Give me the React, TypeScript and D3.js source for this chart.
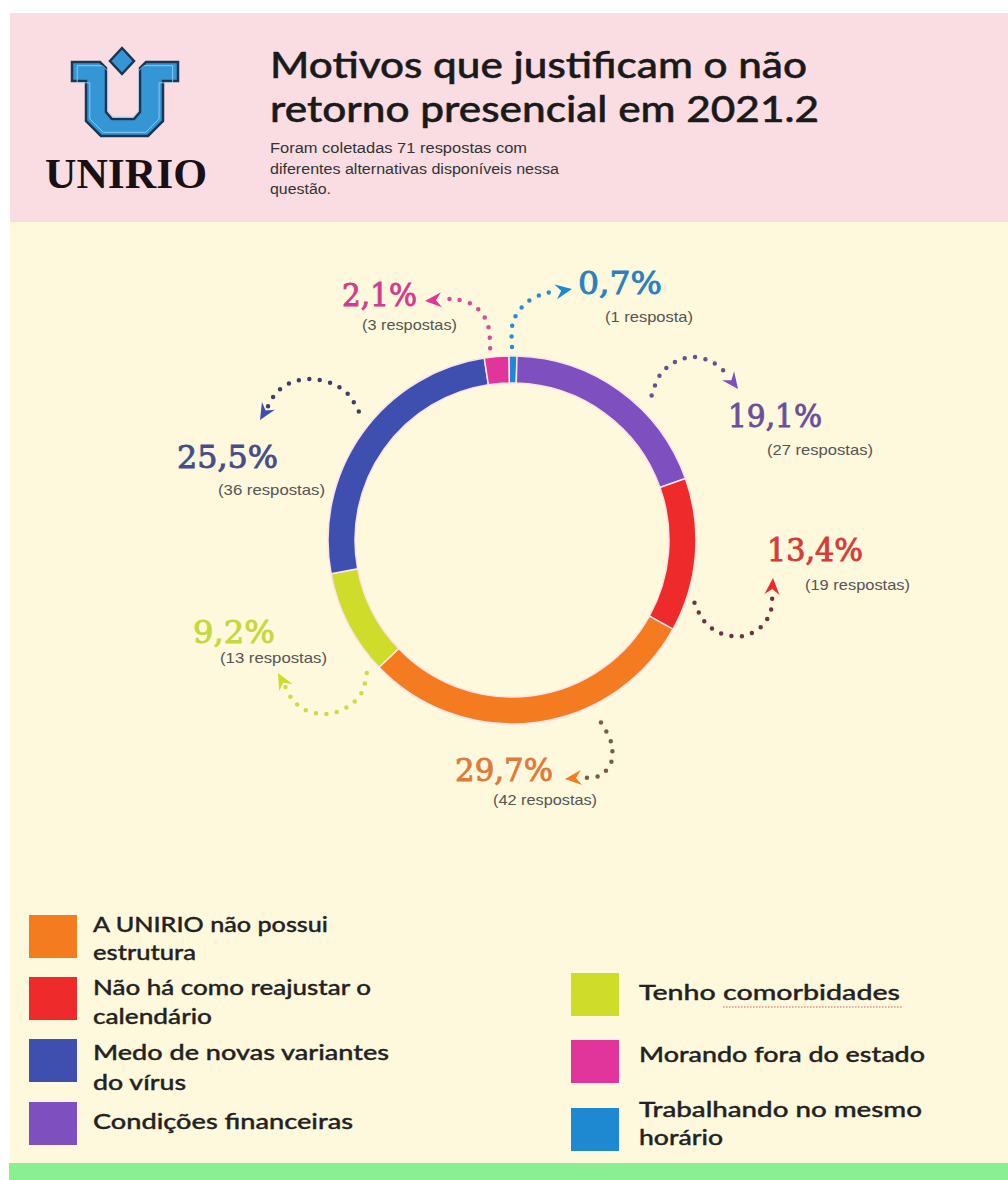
import React from "react";
import * as d3 from "d3";

// ---------- DATA ----------
const categories = [
  "Trabalhando no mesmo horário",
  "Condições financeiras",
  "Não há como reajustar o calendário",
  "A UNIRIO não possui estrutura",
  "Tenho comorbidades",
  "Medo de novas variantes do vírus",
  "Morando fora do estado",
];
const responses = [1, 27, 19, 42, 13, 36, 3];
const percentLabels = ["0,7%", "19,1%", "13,4%", "29,7%", "9,2%", "25,5%", "2,1%"];
const legendLines = [
  ["Trabalhando no mesmo", "horário"],
  ["Condições financeiras"],
  ["Não há como reajustar o", "calendário"],
  ["A UNIRIO não possui", "estrutura"],
  ["Tenho comorbidades"],
  ["Medo de novas variantes", "do vírus"],
  ["Morando fora do estado"],
];
const titleLines = ["Motivos que justificam o não", "retorno presencial em 2021.2"];
const subtitleLines = [
  "Foram coletadas 71 respostas com",
  "diferentes alternativas disponíveis nessa",
  "questão.",
];

// ---------- STYLE ----------
const sliceColors = ["#1e88d0", "#7d4fbf", "#ee2a2a", "#f47b20", "#cfdc2a", "#3f4fb0", "#e2359c"];
const labelColors = ["#2a7fc0", "#6a4f9a", "#d63b3b", "#de7a3c", "#c6d83c", "#464d88", "#d23a8e"];
const dotColors = ["#2e8bd0", "#6a5090", "#6b3444", "#7c5a48", "#cfdc40", "#3c3f6a", "#d84a9a"];

// ---------- LAYOUT ----------
const W = 1008, H = 1180;
const CX = 512, CY = 540, R_OUT = 184, R_IN = 157;
const START_DEG = -1;

const labelLayout = [
  { px: 578, py: 294, pw: 84, sx: 605, sy: 322, sw: 88, a: 0, r: 193, pts: [[513, 322], [525, 304], [543, 294]], tip: [572, 289] },
  { px: 728, py: 427, pw: 94, sx: 767, sy: 455, sw: 106, a: 44, r: 201, pts: [[660, 375], [675, 362], [693, 357], [712, 362], [726, 373]], tip: [738, 389] },
  { px: 767, py: 561, pw: 96, sx: 805, sy: 590, sw: 105, a: 109, r: 193, pts: [[704, 621], [720, 633], [743, 636], [762, 626], [771, 610]], tip: [773, 578] },
  { px: 455, py: 781, pw: 98, sx: 493, sy: 805, sw: 104, a: 154, r: 203, pts: [[611, 742], [611, 763], [599, 776]], tip: [565, 779] },
  { px: 193, py: 643, pw: 82, sx: 220, sy: 663, sw: 107, a: 227.5, r: 197, pts: [[362, 692], [349, 706], [327, 714], [305, 710], [292, 699]], tip: [278, 673] },
  { px: 177, py: 468, pw: 101, sx: 218, sy: 495, sw: 107, a: 310, r: 200, pts: [[348, 394], [333, 384], [310, 379], [290, 383], [276, 393]], tip: [260, 420] },
  { px: 342, py: 306, pw: 75, sx: 362, sy: 330, sw: 95, a: -6.5, r: 193, pts: [[487, 322], [473, 305], [453, 299]], tip: [425, 301] },
];

const legendLayout = [
  { x: 571, sq: 1108, bl: [1117, 1145], w: [283, 84] },
  { x: 29, sq: 1102, bl: [1129], w: [260] },
  { x: 29, sq: 977, bl: [995, 1024], w: [278, 119] },
  { x: 29, sq: 915, bl: [932, 960], w: [235, 103] },
  { x: 571, sq: 973, bl: [1000], w: [261] },
  { x: 29, sq: 1039, bl: [1060, 1090], w: [296, 93] },
  { x: 571, sq: 1040, bl: [1062], w: [286] },
];

const SANS = "Lato, 'Open Sans', sans-serif";

function polar(aDeg: number, r: number): [number, number] {
  const a = (aDeg * Math.PI) / 180;
  return [CX + r * Math.sin(a), CY - r * Math.cos(a)];
}

export default function App() {
  const pie = d3
    .pie<number>()
    .sort(null)
    .value((d) => d)
    .startAngle((START_DEG * Math.PI) / 180)
    .endAngle((START_DEG * Math.PI) / 180 + 2 * Math.PI);
  const arcs = pie(responses);
  const arcGen = d3.arc<d3.PieArcDatum<number>>().innerRadius(R_IN).outerRadius(R_OUT);
  const lineGen = d3.line().curve(d3.curveCatmullRom.alpha(0.5));

  const logoPts = [
    [72, 62], [100, 62], [106, 68], [106, 112], [112, 119], [134, 119], [140, 112], [140, 68],
    [146, 62], [178, 62], [178, 81], [163, 81], [163, 121], [148, 136], [101, 136], [86, 121],
    [86, 81], [72, 81],
  ];
  const logoStr = logoPts.map((p) => p.join(",")).join(" ");

  return (
    <svg width={W} height={H} style={{ position: "absolute", left: 0, top: 0 }} xmlns="http://www.w3.org/2000/svg">
      <rect x={0} y={0} width={W} height={H} fill="#ffffff" />
      <rect x={10} y={13} width={W - 10} height={209} fill="#f9dde3" />
      <rect x={10} y={222} width={W - 10} height={941} fill="#fef8dc" />
      <rect x={9} y={1163} width={W - 9} height={17} fill="#8aee92" />

      {/* Logo */}
      <g>
        <polygon points={logoStr} fill="#3596d6" stroke="#1c3550" strokeWidth={2.5} strokeLinejoin="miter" />
        <polygon points={logoStr} fill="none" stroke="#9fd4f3" strokeWidth={0.9} transform="translate(124,99) scale(0.9) translate(-124,-99)" />
        <polygon points="122,48 134,61 122,74 110,61" fill="#3596d6" stroke="#1c3550" strokeWidth={2.5} />
        <text x={45} y={188} fontFamily="'Liberation Serif', serif" fontWeight="bold" fontSize={42} fill="#1a0f12" textLength={162} lengthAdjust="spacingAndGlyphs">UNIRIO</text>
      </g>

      {/* Title */}
      {titleLines.map((t, i) => (
        <text key={t} x={270} y={78 + i * 44} fontFamily={SANS} fontWeight={500} fontSize={37} fill="#1a1a1a" stroke="#1a1a1a" strokeWidth={0.5} textLength={i === 0 ? 537 : 549} lengthAdjust="spacingAndGlyphs">{t}</text>
      ))}
      {subtitleLines.map((t, i) => (
        <text key={t} x={270} y={153 + i * 20.5} fontFamily="'Liberation Sans Narrow', 'Liberation Sans', Arial, sans-serif" fontSize={14} fill="#333" textLength={[257, 289, 61][i]} lengthAdjust="spacingAndGlyphs">{t}</text>
      ))}

      {/* Donut */}
      <g transform={`translate(${CX},${CY})`}>
        {arcs.map((a, i) => (
          <path key={categories[i]} d={arcGen(a) || ""} fill={sliceColors[i]} stroke="#fbe3ea" strokeWidth={1.5} />
        ))}
      </g>

      {/* Annotations */}
      {arcs.map((a, i) => {
        const L = labelLayout[i];
        const start = polar(L.a, L.r);
        const last = L.pts[L.pts.length - 1];
        const dx = L.tip[0] - last[0], dy = L.tip[1] - last[1];
        const len = Math.hypot(dx, dy);
        const ux = dx / len, uy = dy / len;
        const hl = 15;
        const base: [number, number] = [L.tip[0] - ux * hl, L.tip[1] - uy * hl];
        const px = -uy, py = ux;
        const head = [
          L.tip,
          [base[0] + px * 7.5 - ux * 1.5, base[1] + py * 7.5 - uy * 1.5],
          [base[0] + ux * 4, base[1] + uy * 4],
          [base[0] - px * 7.5 - ux * 1.5, base[1] - py * 7.5 - uy * 1.5],
        ];
        const pathPts = [start, ...L.pts, base] as [number, number][];
        const n = responses[i];
        return (
          <g key={"ann" + i}>
            <path d={lineGen(pathPts) || ""} fill="none" stroke={dotColors[i]} strokeWidth={4.5} strokeLinecap="round" strokeDasharray="0 10.5" />
            <polygon points={head.map((p) => p.join(",")).join(" ")} fill={sliceColors[i]} />
            <text x={L.px} y={L.py} fontFamily="'DejaVu Serif', serif" fontSize={31} fill={labelColors[i]} stroke={labelColors[i]} strokeWidth={0.9} textLength={L.pw} lengthAdjust="spacingAndGlyphs">{percentLabels[i]}</text>
            <text x={L.sx} y={L.sy} fontFamily="'Liberation Sans Narrow', 'Liberation Sans', Arial, sans-serif" fontSize={15} fill="#555" textLength={L.sw} lengthAdjust="spacingAndGlyphs">{`(${n} ${n === 1 ? "resposta" : "respostas"})`}</text>
          </g>
        );
      })}

      {/* Legend */}
      {categories.map((c, i) => {
        const L = legendLayout[i];
        const tx = L.x < 300 ? 93 : 639;
        return (
          <g key={"lg" + c}>
            <rect x={L.x} y={L.sq} width={48} height={43} fill={sliceColors[i]} />
            {legendLines[i].map((t, j) => (
              <text key={t} x={tx} y={L.bl[j]} fontFamily={SANS} fontWeight={500} fontSize={21} fill="#222" stroke="#222" strokeWidth={0.35} textLength={L.w[j]} lengthAdjust="spacingAndGlyphs">{t}</text>
            ))}
          </g>
        );
      })}
      {/* spell-check underline */}
      <line x1={723} y1={1007} x2={903} y2={1007} stroke="#e05a5a" strokeWidth={1.2} strokeDasharray="1.5 1.5" />
    </svg>
  );
}
